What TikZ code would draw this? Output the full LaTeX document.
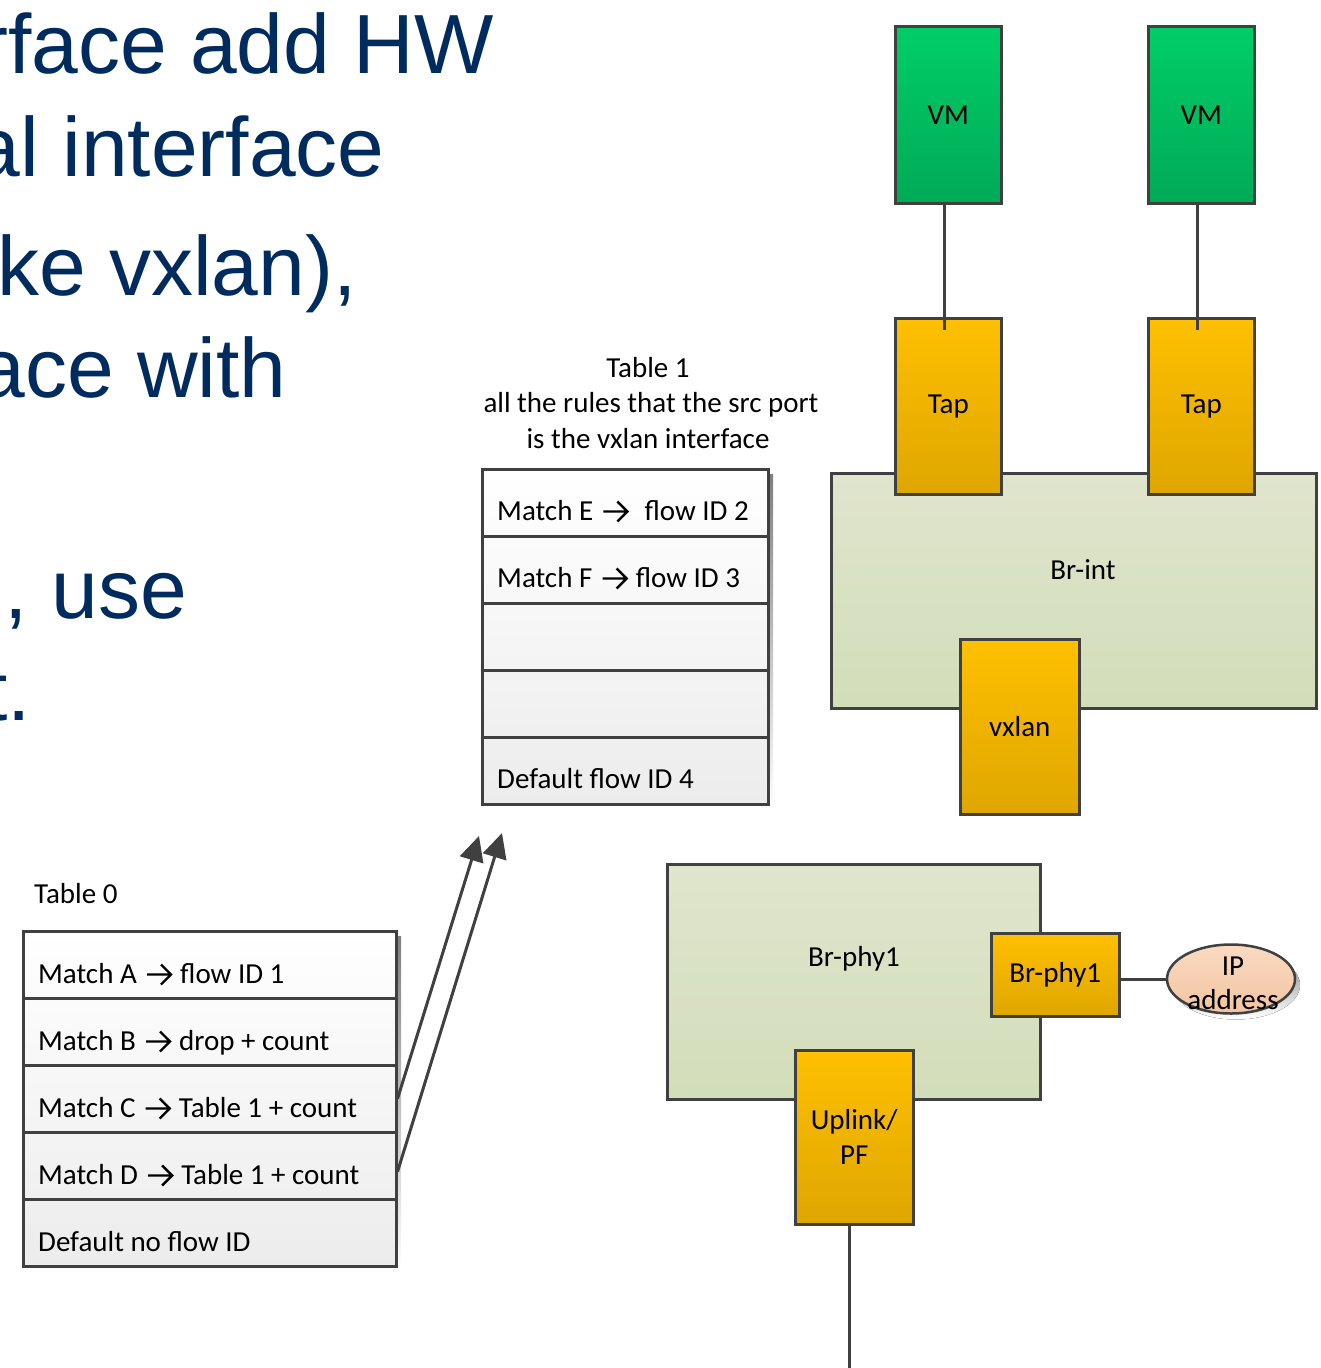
\documentclass[tikz,border=0pt]{standalone}
\usepackage{fontspec}
\setmainfont{Carlito}
\newfontfamily\headfont{Liberation Sans}
\usetikzlibrary{arrows.meta,shapes.geometric}

\definecolor{edge}{RGB}{64,64,64}
\definecolor{navy}{RGB}{0,43,94}
\definecolor{vmtop}{RGB}{0,206,104}
\definecolor{vmbot}{RGB}{0,170,86}
\definecolor{orgtop}{RGB}{255,192,0}
\definecolor{orgbot}{RGB}{222,166,0}
\definecolor{brtop}{RGB}{224,229,205}
\definecolor{brbot}{RGB}{210,221,185}
\definecolor{iptop}{RGB}{250,218,194}
\definecolor{ipbot}{RGB}{242,196,160}
\definecolor{tabbot}{RGB}{236,236,236}
\definecolor{shade}{RGB}{232,232,232}

% the bold chevron arrow used inside the rule texts
\newcommand{\ra}{\hspace{9pt}\tikz[baseline=0pt]\draw[line width=2.4pt, line join=miter]
  (0pt,9pt) -- (24pt,9pt) (14pt,19pt) -- (24pt,9pt) -- (14pt,-1pt);\hspace{8pt}}

\begin{document}
\begin{tikzpicture}[x=1pt,y=-1pt,
  lbl/.style={inner sep=0pt, text=black, font=\fontsize{29}{35}\selectfont},
  box/.style={lbl, draw=edge, line width=2.5pt, rectangle, anchor=north west},
  vmbox/.style={box, top color=vmtop, bottom color=vmbot,
    minimum width=106pt, minimum height=177pt},
  portbox/.style={box, top color=orgtop, bottom color=orgbot},
  bridge/.style={box, top color=brtop, bottom color=brbot},
  tablebox/.style={box, top color=white, bottom color=tabbot},
  tablerow/.style={draw=edge, line width=2.5pt, rectangle, inner sep=0pt,
    anchor=north west, minimum height=67pt},
  rowtext/.style={lbl, anchor=base west},
  head/.style={anchor=base east, inner sep=0pt, text=navy,
    font=\headfont\fontsize{84}{100}\selectfont},
  conn/.style={draw=edge, line width=3pt},
  flow/.style={conn, -{Triangle[length=25pt,width=24pt]}}]

\useasboundingbox (0,0) rectangle (1320,1368);
\clip (0,0) rectangle (1320,1368);

% slide text running in from the left
\node[head] (h1) at (494,73)  {rface add HW};
\node[head] (h2) at (385,176) {al interface};
\node[head] (h3) at (357,295) {ke vxlan),};
\node[head] (h4) at (287,397) {ace with};
\node[head] (h5) at (187,618) {, use};
\node[head] (h6) at (31,720)  {t.};

% ---------- Table 0 ----------
\node[lbl, anchor=base west] (t0title) at (34,903) {Table 0};
\fill[shade] (28,936) rectangle (401,1271);
\node[tablebox, minimum width=373pt, minimum height=335pt] (t0box) at (22,930) {};
\node[tablerow, minimum width=373pt] (t0a) at (22,930)  {};
\node[tablerow, minimum width=373pt] (t0b) at (22,997)  {};
\node[tablerow, minimum width=373pt] (t0c) at (22,1064) {};
\node[tablerow, minimum width=373pt] (t0d) at (22,1131) {};
\node[tablerow, minimum width=373pt] (t0e) at (22,1198) {};
\node[rowtext] (t0at) at ([xshift=16pt,yshift=16pt]t0a.south west) {Match A\ra flow ID 1};
\node[rowtext] (t0bt) at ([xshift=16pt,yshift=16pt]t0b.south west) {Match B\ra drop + count};
\node[rowtext] (t0ct) at ([xshift=16pt,yshift=16pt]t0c.south west) {Match C\ra Table 1 + count};
\node[rowtext] (t0dt) at ([xshift=16pt,yshift=16pt]t0d.south west) {Match D\ra Table 1 + count};
\node[rowtext] (t0et) at ([xshift=16pt,yshift=16pt]t0e.south west) {Default no flow ID};

% ---------- Table 1 ----------
\node[lbl, anchor=base] (t1title) at (648,377) {Table 1};
\node[lbl, anchor=base] (t1note1) at (651,412) {all the rules that the src port};
\node[lbl, anchor=base] (t1note2) at (648,448) {is the vxlan interface};
\fill[shade] (487,474) rectangle (773,809);
\node[tablebox, minimum width=286pt, minimum height=335pt] (t1box) at (481,468) {};
\node[tablerow, minimum width=286pt] (t1a) at (481,468) {};
\node[tablerow, minimum width=286pt] (t1b) at (481,535) {};
\node[tablerow, minimum width=286pt] (t1c) at (481,602) {};
\node[tablerow, minimum width=286pt] (t1d) at (481,669) {};
\node[tablerow, minimum width=286pt] (t1e) at (481,736) {};
\node[rowtext] (t1at) at ([xshift=16pt,yshift=17pt]t1a.south west) {Match E\ra\hspace{8pt}flow ID 2};
\node[rowtext] (t1bt) at ([xshift=16pt,yshift=17pt]t1b.south west) {Match F\ra flow ID 3};
\node[rowtext] (t1et) at ([xshift=16pt,yshift=17pt]t1e.south west) {Default flow ID 4};

% jumps from Table 0 into Table 1
\coordinate (jump1) at (479,836);
\coordinate (jump2) at (502,833);
\draw[flow] (t0c.east) -- (jump1);
\draw[flow] ([yshift=-6pt]t0d.east) -- (jump2);

% ---------- Br-int with its ports ----------
\node[bridge, minimum width=485pt, minimum height=235pt] (brint) at (830,472) {};
\node[lbl] (brintlbl) at (1083,570) {Br-int};
\node[vmbox] (vm1) at (894,25) {VM};
\node[vmbox] (vm2) at (1147,25) {VM};
\node[portbox, minimum width=106pt, minimum height=176pt] (tap1) at (894,317) {Tap};
\node[portbox, minimum width=106pt, minimum height=176pt] (tap2) at (1147,317) {Tap};
\node[portbox, minimum width=119pt, minimum height=175pt] (vxlan) at (959,638) {vxlan};
\coordinate (tap1in) at (944,330);
\coordinate (tap2in) at (1197,330);
\draw[conn] (tap1in |- vm1.south) -- (tap1in);
\draw[conn] (tap2in |- vm2.south) -- (tap2in);

% ---------- Br-phy1 with its ports ----------
\node[bridge, minimum width=373pt, minimum height=235pt] (brphy) at (666,863) {};
\node[lbl] (brphylbl) at (854,959) {Br-phy1};
\node[portbox, minimum width=128pt, minimum height=83pt] (brport) at (990,932) {Br-phy1};
\node[portbox, minimum width=118pt, minimum height=174pt, align=center] (uplink) at (794,1049) {Uplink/\\PF};
\fill[shade] (1236,985) ellipse [x radius=64, y radius=34.5];
\node[ellipse, draw=edge, line width=2.5pt, top color=iptop, bottom color=ipbot,
  minimum width=128pt, minimum height=69pt, inner sep=0pt] (ip) at (1231,979) {};
\node[lbl, align=center, font=\fontsize{29}{34}\selectfont] (iplbl) at (1233,983) {IP\\address};
\draw[conn] (ip.west -| brport.east) -- (ip.west);
\coordinate (wire) at (849,1368);
\draw[conn] (wire |- uplink.south) -- (wire);

\end{tikzpicture}
\end{document}
